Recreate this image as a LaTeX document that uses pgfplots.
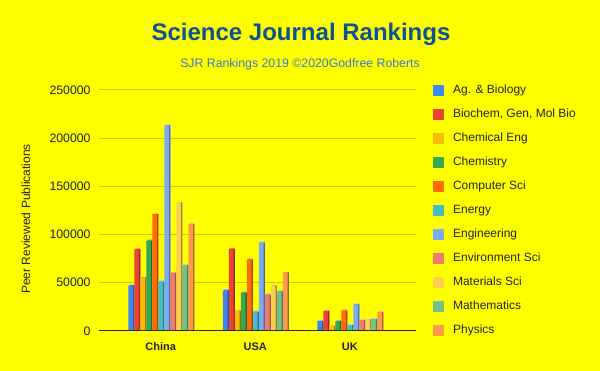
\documentclass[border=0pt]{standalone}
\usepackage{fontspec}
\setmainfont{Liberation Sans}
\usepackage{pgfplots}
\pgfplotsset{compat=1.18}
\definecolor{c1}{HTML}{4285F4}
\definecolor{c2}{HTML}{EA4335}
\definecolor{c3}{HTML}{FBBC04}
\definecolor{c4}{HTML}{34A853}
\definecolor{c5}{HTML}{FF6D01}
\definecolor{c6}{HTML}{46BDC6}
\definecolor{c7}{HTML}{7BAAF7}
\definecolor{c8}{HTML}{F07B72}
\definecolor{c9}{HTML}{FCD04F}
\definecolor{c10}{HTML}{71C287}
\definecolor{c11}{HTML}{FF994D}
\definecolor{bg}{HTML}{FFFF00}
\definecolor{gridc}{HTML}{C8C800}
\definecolor{textc}{HTML}{222222}
\definecolor{titlec}{HTML}{0B5394}
\definecolor{subc}{HTML}{3C78D8}
\pgfplotsset{sq/.style={legend image code/.code={\fill[##1] (0pt,-5.5pt) rectangle (11pt,5.5pt);}}}
\newcommand\ser[3]{%
  \addplot[fill=#1!55!white, draw=none, bar shift=#2, xshift=1.2pt, yshift=1.2pt, forget plot] coordinates {#3};
  \addplot[fill=#1!60!black, draw=none, bar shift=#2, xshift=1.2pt, forget plot] coordinates {#3};
  \addplot[fill=#1, draw=none, bar shift=#2, sq] coordinates {#3};
}
\begin{document}
\begin{tikzpicture}[x=1pt,y=1pt]
\fill[bg] (0,0) rectangle (600,371);
\node[font=\fontsize{24}{28}\selectfont\bfseries, text=titlec, anchor=base] at (301,330) {Science Journal Rankings};
\node[font=\fontsize{12.3}{14}\selectfont, text=subc, anchor=base] at (300,303.7) {SJR Rankings 2019 ©2020Godfree Roberts};
\begin{axis}[
  at={(104.5,41.7)}, anchor=south west,
  scale only axis, width=317pt, height=241pt,
  xmin=-0.656, xmax=2.698, ymin=0, ymax=250000,
  ybar, bar width=4.8pt,
  xtick={0,1,2}, xticklabels={China,USA,UK},
  ytick={0,50000,100000,150000,200000,250000},
  scaled y ticks=false,
  /pgf/number format/fixed, /pgf/number format/1000 sep={},
  /pgf/number format/assume math mode=true,
  ymajorgrids, grid style={color=gridc, line width=0.9pt},
  axis line style={draw=none},
  major tick length=0pt, tick style={draw=none},
  yticklabel style={font=\fontsize{12.3}{14}\selectfont, text=textc, inner sep=0pt, anchor=east, xshift=-8pt},
  xticklabel style={font=\fontsize{11}{13}\selectfont\bfseries, text=textc, inner sep=0pt, anchor=base, yshift=-19.7pt},
  ylabel={Peer Reviewed Publications},
  every axis y label/.style={at={(rel axis cs:-0.2303,0.464)}, rotate=90, anchor=center, font=\fontsize{12}{14}\selectfont, text=textc},
  legend cell align=left,
  legend style={at={(rel axis cs:1.0546,1.022)}, anchor=north west, draw=none, fill=none, inner sep=0pt, outer sep=0pt,
    row sep=12pt, column sep=9pt, font=\fontsize{12}{14}\selectfont, text=textc,
    nodes={inner sep=0pt, text height=8.6pt, text depth=3.4pt}},
]
\ser{c1}{-30pt}{(0,47000) (1,42000) (2,10000)}
\ser{c2}{-24pt}{(0,84500) (1,85000) (2,20500)}
\ser{c3}{-18pt}{(0,55500) (1,21000) (2,5000)}
\ser{c4}{-12pt}{(0,93500) (1,39500) (2,10000)}
\ser{c5}{-6pt}{(0,121000) (1,74000) (2,21000)}
\ser{c6}{0pt}{(0,51000) (1,20000) (2,5800)}
\ser{c7}{6pt}{(0,213000) (1,91500) (2,27500)}
\ser{c8}{12pt}{(0,60000) (1,37500) (2,11000)}
\ser{c9}{18pt}{(0,133000) (1,47000) (2,12000)}
\ser{c10}{24pt}{(0,68000) (1,41000) (2,12000)}
\ser{c11}{30pt}{(0,111000) (1,60500) (2,19500)}
\legend{Ag. \& Biology, {Biochem, Gen, Mol Bio}, Chemical Eng, Chemistry, Computer Sci, Energy, Engineering, Environment Sci, Materials Sci, Mathematics, Physics}
\draw[color=black!85, line width=1pt] (rel axis cs:0,0) -- (rel axis cs:1,0);
\draw[color=white!85!bg, line width=1.5pt] ([yshift=-1.5pt]rel axis cs:0,0) -- ([yshift=-1.5pt]rel axis cs:1,0);
\end{axis}
\end{tikzpicture}
\end{document}
